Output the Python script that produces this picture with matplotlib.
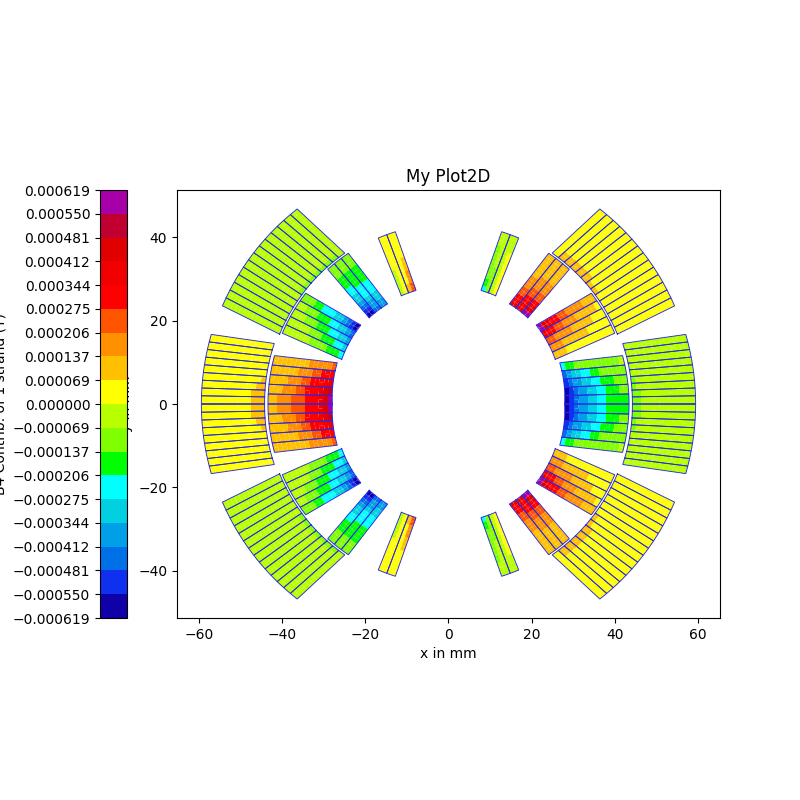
import numpy as np
import matplotlib
matplotlib.use("Agg")
import matplotlib.pyplot as plt
from matplotlib.colors import ListedColormap, BoundaryNorm

level_labels = ["0.000619", "0.000550", "0.000481", "0.000412", "0.000344", "0.000275",
                "0.000206", "0.000137", "0.000069", "0.000000", "\u22120.000069", "\u22120.000137",
                "\u22120.000206", "\u22120.000275", "\u22120.000344", "\u22120.000412", "\u22120.000481",
                "\u22120.000550", "\u22120.000619"]
band_colors = ["#1000a8", "#1030f0", "#0070e8", "#00a0e8", "#00d0e0", "#00ffff",
               "#00ff00", "#80ff00", "#b8ff00", "#ffff00", "#ffc000", "#ff9000",
               "#ff5500", "#ff0000", "#f00000", "#e00000", "#c00030", "#a800a8"]

# block outlines in the upper right quadrant, mm and degrees
r_in_lo = [27.9, 44.2, 27.8, 43.9, 28.1, 28.3]
r_in_hi = [28.5, 44.3, 28.3, 43.9, 28.1, 28.3]
r_out = [43.4, 59.4, 43.4, 59.2, 43.4, 43.2]
phi_in_lo = [0.1, 0.1, 22.6, 22.4, 47.3, 66.4]
phi_in_hi = [20.3, 19.1, 41.9, 55.4, 58.6, 74.0]
phi_out_lo = [0.1, 0.1, 23.0, 23.4, 48.0, 67.0]
phi_out_hi = [15.5, 16.3, 37.7, 52.1, 56.3, 72.8]
n_cables = [5, 9, 5, 14, 3, 2]

# colour band of each strand column, inner end to outer end, low angle cable first
right_bands = [
    [[0, 1, 2, 3, 3, 4, 4, 5, 5, 6, 6, 6, 6, 6],
     [0, 1, 2, 3, 3, 4, 4, 5, 5, 6, 6, 6, 7, 7],
     [1, 2, 3, 3, 4, 4, 5, 5, 6, 6, 6, 7, 7, 7],
     [2, 3, 4, 4, 5, 5, 6, 6, 7, 7, 7, 7, 7, 7],
     [5, 6, 6, 7, 7, 7, 7, 7, 7, 7, 7, 7, 7, 8]],
    [[7, 7] + [8] * 12, [7, 7] + [8] * 12, [7] + [8] * 13, [7] + [8] * 13,
     [8] * 14, [8] * 14, [8] * 14, [8] * 14, [8] * 14],
    [[10, 10, 10, 9, 9, 9, 9, 9, 9, 9, 9, 9, 9, 9],
     [11, 11, 11, 10, 10, 10, 10, 10, 10, 9, 9, 9, 9, 9],
     [12, 12, 11, 11, 11, 11, 10, 10, 10, 10, 10, 9, 9, 9],
     [14, 13, 13, 12, 12, 11, 11, 11, 10, 10, 10, 10, 10, 9],
     [17, 15, 14, 13, 13, 12, 12, 11, 11, 11, 11, 10, 10, 10]],
    [[9] * 14, [9] * 14, [9] * 14, [9] * 14, [9] * 14, [9] * 14,
     [10] + [9] * 13, [10] + [9] * 13,
     [10, 10] + [9] * 12, [10, 10] + [9] * 12, [10, 10] + [9] * 12,
     [10, 10] + [9] * 12, [10, 10] + [9] * 12, [9] * 14],
    [[17, 15, 14, 13, 12, 12, 11, 11, 11, 10, 10, 10, 10, 10],
     [14, 14, 13, 13, 12, 12, 11, 11, 11, 10, 10, 10, 10, 10],
     [14, 13, 13, 12, 12, 11, 11, 11, 10, 10, 10, 10, 10, 10]],
    [[9, 9, 9, 9, 9, 9, 9, 9, 9, 9, 8, 8, 8, 8],
     [8] * 14,
     [7, 7, 7, 7, 7, 7, 8, 8, 8, 8, 8, 8, 8, 8],
     [5, 6, 6, 7, 7, 7, 7, 7, 7, 7, 7, 8, 8, 8]],
]
left_bands = [
    [[17, 15, 14, 13, 13, 13, 12, 12, 12, 11, 11, 11, 10, 10],
     [16, 15, 14, 13, 13, 13, 12, 12, 11, 11, 11, 10, 10, 10],
     [14, 14, 13, 13, 13, 12, 12, 11, 11, 11, 10, 10, 10, 10],
     [13, 13, 13, 12, 12, 11, 11, 11, 10, 10, 10, 10, 10, 10],
     [12, 11, 11, 11, 11, 11, 10, 10, 10, 10, 10, 10, 10, 10]],
    [[10, 10, 10] + [9] * 11, [10, 10, 10] + [9] * 11, [10, 10] + [9] * 12,
     [10] + [9] * 13, [9] * 14, [9] * 14, [9] * 14, [9] * 14, [9] * 14],
    [[5, 6, 6, 6, 7, 7, 7, 7, 8, 8, 8, 8, 8, 8],
     [4, 5, 5, 6, 6, 6, 7, 7, 7, 8, 8, 8, 8, 8],
     [3, 4, 4, 5, 5, 6, 6, 6, 7, 7, 7, 8, 8, 8],
     [2, 3, 4, 4, 5, 5, 6, 6, 6, 7, 7, 7, 8, 8],
     [0, 1, 2, 3, 4, 4, 5, 5, 5, 6, 6, 7, 7, 7]],
    [[8] * 14, [8] * 14, [8] * 14, [8] * 14, [8] * 14, [8] * 14,
     [7] + [8] * 13, [7] + [8] * 13, [7] + [8] * 13, [7] + [8] * 13,
     [7] + [8] * 13, [7] + [8] * 13, [7] + [8] * 13, [8] * 14],
    [[0, 1, 2, 3, 4, 4, 5, 5, 6, 6, 6, 7, 7, 7],
     [2, 3, 3, 4, 5, 5, 5, 6, 6, 6, 6, 7, 7, 7],
     [3, 3, 4, 4, 5, 5, 5, 6, 6, 6, 6, 7, 7, 7]],
    [[8, 8, 8, 8, 8, 8, 9, 9, 9, 9, 9, 9, 9, 9],
     [9] * 14,
     [10, 10, 9, 9, 9, 9, 9, 9, 9, 9, 9, 9, 9, 9],
     [12, 12, 11, 11, 11, 10, 10, 10, 9, 9, 9, 9, 9, 9]],
]

levels = np.linspace(-0.000619, 0.000619, 19)
band_mid = 0.5 * (levels[:-1] + levels[1:])
cmap = ListedColormap(band_colors)
norm = BoundaryNorm(levels, cmap.N)


def cable_grid(b, i):
    """Corner grid of cable i in block b: 3 x 15 points, 2 strand rows."""
    u = (i + np.array([0.0, 0.5, 1.0]))[:, None] / n_cables[b]
    v = np.linspace(0, 1, 15)[None, :]
    a_in = np.radians(phi_in_lo[b] + u * (phi_in_hi[b] - phi_in_lo[b]))
    a_out = np.radians(phi_out_lo[b] + u * (phi_out_hi[b] - phi_out_lo[b]))
    r1 = r_in_lo[b] + u * (r_in_hi[b] - r_in_lo[b])
    x = r1 * np.cos(a_in) * (1 - v) + r_out[b] * np.cos(a_out) * v
    y = r1 * np.sin(a_in) * (1 - v) + r_out[b] * np.sin(a_out) * v
    return x, y


fig = plt.figure(figsize=(8, 8), dpi=100)
ax = fig.add_axes([177 / 800, 182 / 800, 543 / 800, 428 / 800])

mesh = None
for side, bands in ((1, right_bands), (-1, left_bands)):
    for b in range(len(n_cables)):
        for i in range(n_cables[b]):
            x, y = cable_grid(b, i)
            rows = np.array(bands[b][i * len(bands[b]) // n_cables[b]:(i + 1) * len(bands[b]) // n_cables[b]])
            vals = band_mid[np.repeat(rows, 2 // len(rows), axis=0)]
            for mirror in (1, -1):
                xs, ys = side * x, mirror * y
                mesh = ax.pcolormesh(xs, ys, vals, cmap=cmap, norm=norm, shading="flat",
                                     antialiased=True, linewidth=0)
                ox = [xs[0, 0], xs[0, -1], xs[-1, -1], xs[-1, 0], xs[0, 0]]
                oy = [ys[0, 0], ys[0, -1], ys[-1, -1], ys[-1, 0], ys[0, 0]]
                ax.plot(ox, oy, color="#2828e8", lw=0.65, solid_joinstyle="miter")

ax.set_xlim(-65.25, 65.25)
ax.set_ylim(-51.26, 51.26)
ax.set_xticks([-60, -40, -20, 0, 20, 40, 60])
ax.set_yticks([-40, -20, 0, 20, 40])
ax.set_xlabel("x in mm")
ax.set_ylabel("y in mm")
ax.set_title("My Plot2D")

cax = fig.add_axes([100 / 800, 182 / 800, 27 / 800, 428 / 800])
cbar = fig.colorbar(mesh, cax=cax, ticklocation="left", spacing="proportional")
cbar.set_ticks(levels[::-1], labels=level_labels)
cbar.minorticks_off()
cbar.set_label("B4 Contrib. of 1 strand (T)")

fig.savefig("out.png", dpi=100)
